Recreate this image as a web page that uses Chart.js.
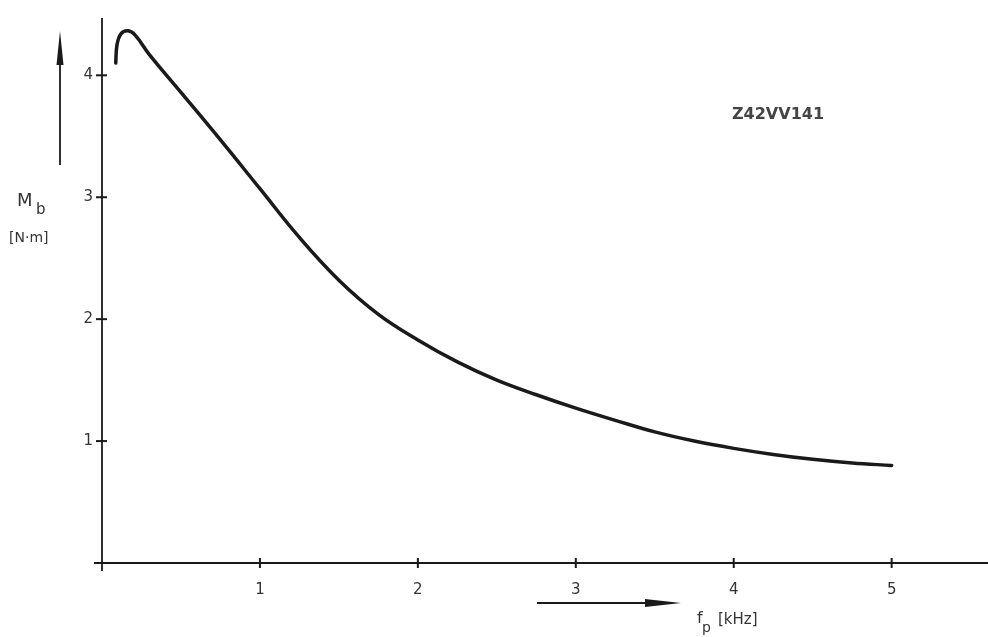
<!DOCTYPE html>
<html>
<head>
<meta charset="utf-8">
<script src="https://cdn.jsdelivr.net/npm/chart.js@4.4.0/dist/chart.umd.min.js"></script>
<style>
  html, body { margin: 0; padding: 0; background: #fff; }
  #wrap { width: 988px; height: 637px; }
</style>
</head>
<body>
<div id="wrap"><canvas id="grafico"></canvas></div>
<script>
// valores
const freqKHz = [0.087, 0.095, 0.12, 0.165, 0.21, 0.3, 0.5, 0.75, 1.0, 1.25, 1.5, 1.75, 2.0, 2.25, 2.5, 2.75, 3.0, 3.25, 3.5, 3.75, 4.0, 4.25, 4.5, 4.75, 5.0];
const torqueNm = [4.10, 4.25, 4.34, 4.365, 4.33, 4.17, 3.86, 3.47, 3.07, 2.67, 2.32, 2.04, 1.83, 1.65, 1.50, 1.38, 1.27, 1.17, 1.075, 1.00, 0.94, 0.89, 0.85, 0.82, 0.80];
const xTicks = [1, 2, 3, 4, 5];
const yTicks = [1, 2, 3, 4];
const codigo = "Z42VV141";

const tinta = "#1a1a1a";
const fonte = "'DejaVu Sans', sans-serif";

const pontos = freqKHz.map((f, i) => ({ x: f, y: torqueNm[i] }));

// desenha eixos, marcas cruzadas, setas e legendas
const desenhoExtra = {
  id: "desenhoExtra",
  afterDraw(chart) {
    const ctx = chart.ctx;
    const sx = chart.scales.x;
    const sy = chart.scales.y;
    const x0 = sx.getPixelForValue(0);
    const y0 = sy.getPixelForValue(0);
    ctx.save();
    ctx.strokeStyle = tinta;
    ctx.fillStyle = tinta;
    ctx.lineWidth = 1.8;

    // eixos
    ctx.beginPath();
    ctx.moveTo(x0, chart.chartArea.top);
    ctx.lineTo(x0, y0 + 8);
    ctx.moveTo(x0 - 8, y0);
    ctx.lineTo(chart.width, y0);
    ctx.stroke();

    // marcas
    ctx.lineWidth = 2;
    xTicks.forEach(v => {
      const px = sx.getPixelForValue(v);
      ctx.beginPath();
      ctx.moveTo(px, y0 - 5);
      ctx.lineTo(px, y0 + 5);
      ctx.stroke();
    });
    yTicks.forEach(v => {
      const py = sy.getPixelForValue(v);
      ctx.beginPath();
      ctx.moveTo(x0 - 6, py);
      ctx.lineTo(x0 + 5, py);
      ctx.stroke();
    });

    // seta vertical
    ctx.lineWidth = 1.8;
    ctx.beginPath();
    ctx.moveTo(60, 165);
    ctx.lineTo(60, 60);
    ctx.stroke();
    ctx.beginPath();
    ctx.moveTo(60, 31);
    ctx.lineTo(63.5, 65);
    ctx.lineTo(56.5, 65);
    ctx.closePath();
    ctx.fill();

    // seta horizontal
    ctx.beginPath();
    ctx.moveTo(537, 603);
    ctx.lineTo(650, 603);
    ctx.stroke();
    ctx.beginPath();
    ctx.moveTo(681, 603);
    ctx.lineTo(645, 599);
    ctx.lineTo(645, 607);
    ctx.closePath();
    ctx.fill();

    // textos
    ctx.fillStyle = "#333";
    ctx.textBaseline = "middle";
    ctx.textAlign = "left";
    ctx.font = "18px " + fonte;
    ctx.fillText("M", 17, 201);
    ctx.font = "15px " + fonte;
    ctx.fillText("b", 36, 210);
    ctx.font = "14px " + fonte;
    ctx.fillText("[N·m]", 9, 238);

    ctx.font = "16px " + fonte;
    ctx.fillText("f", 697, 619);
    ctx.font = "14px " + fonte;
    ctx.fillText("p", 702, 628);
    ctx.font = "15px " + fonte;
    ctx.fillText("[kHz]", 718, 620);

    ctx.font = "bold 16px " + fonte;
    ctx.fillStyle = "#444";
    ctx.fillText(codigo, 732, 115);
    ctx.restore();
  }
};

new Chart(document.getElementById("grafico"), {
  type: "scatter",
  data: {
    datasets: [{
      data: pontos,
      showLine: true,
      borderColor: tinta,
      borderWidth: 3.5,
      pointRadius: 0,
      tension: 0.4,
      borderCapStyle: "round",
      borderJoinStyle: "round"
    }]
  },
  options: {
    responsive: true,
    maintainAspectRatio: false,
    animation: false,
    layout: { padding: { top: 12, right: 0, left: 0, bottom: 0 } },
    plugins: { legend: { display: false }, tooltip: { enabled: false } },
    scales: {
      x: {
        type: "linear",
        min: 0,
        max: 5.61,
        afterBuildTicks: s => { s.ticks = xTicks.map(v => ({ value: v })); },
        afterFit: s => { s.height = 74; },
        grid: { display: false, drawTicks: false },
        border: { display: false },
        ticks: { padding: 18, color: "#333", font: { family: fonte, size: 15 } }
      },
      y: {
        type: "linear",
        min: 0,
        max: 4.47,
        afterBuildTicks: s => { s.ticks = yTicks.map(v => ({ value: v })); },
        afterFit: s => { s.width = 102; },
        grid: { display: false, drawTicks: false },
        border: { display: false },
        ticks: { padding: 9, color: "#333", font: { family: fonte, size: 15 } }
      }
    }
  },
  plugins: [desenhoExtra]
});
</script>
</body>
</html>
